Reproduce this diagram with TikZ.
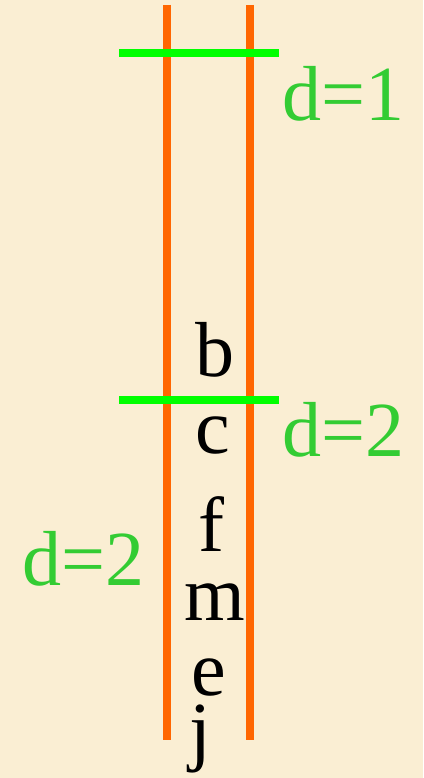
\documentclass[tikz,border=0pt]{standalone}
\usepackage{fontspec}
\setmainfont{Liberation Serif}
\definecolor{bg}{HTML}{FAEED3}
\definecolor{rail}{HTML}{FF6600}
\definecolor{cutline}{HTML}{00FF00}
\definecolor{dtext}{HTML}{33CC33}
\tikzset{
  railline/.style={draw=rail,line width=8pt},
  cut/.style={draw=cutline,line width=7.5pt},
  lbl/.style={inner sep=0pt,anchor=base,font=\fontsize{78}{80}\selectfont},
  dlbl/.style={lbl,text=dtext,anchor=base west},
}
\begin{document}
\begin{tikzpicture}[x=1pt,y=-1pt]
\fill[bg] (0,0) rectangle (423,778);
\useasboundingbox (0,0) rectangle (423,778);
\coordinate (l1) at (167,5);
\coordinate (l2) at (167,740);
\coordinate (r1) at (249.5,5);
\coordinate (r2) at (249.5,740);
\draw[railline] (l1) -- (l2);
\draw[railline] (r1) -- (r2);
\coordinate (g1a) at (119,52.8);
\coordinate (g1b) at (279,52.8);
\coordinate (g2a) at (119,400);
\coordinate (g2b) at (279,400);
\draw[cut] (g1a) -- (g1b);
\draw[cut] (g2a) -- (g2b);
\node[dlbl] (d1) at (282,121) {d=1};
\node[dlbl] (d2r) at (282,456.5) {d=2};
\node[dlbl] (d2l) at (22,585) {d=2};
\node[lbl] (b) at (214.5,376) {b};
\node[lbl] (c) at (212.5,453) {c};
\node[lbl] (f) at (211,551.5) {f};
\node[lbl] (m) at (214.5,620) {m};
\node[lbl] (e) at (209,695) {e};
\node[lbl] (j) at (200,756) {j};
\end{tikzpicture}
\end{document}
